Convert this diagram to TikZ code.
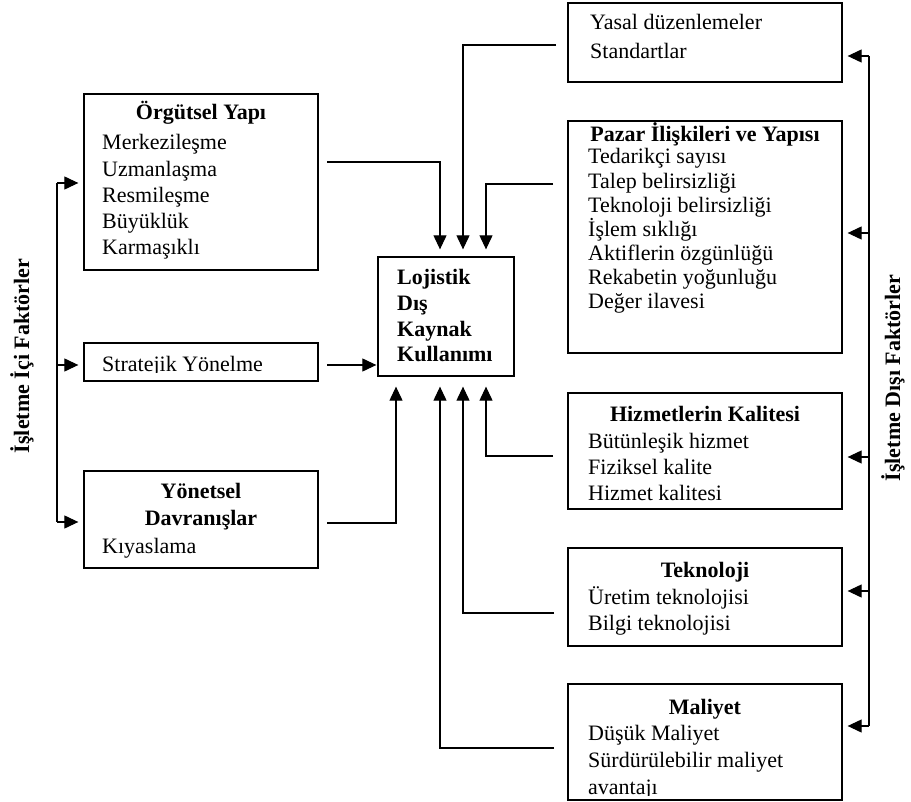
\documentclass[tikz,border=0pt]{standalone}
\usepackage{fontspec}
\setmainfont{Liberation Serif}
\usetikzlibrary{arrows.meta}
\begin{document}
\begin{tikzpicture}[x=1pt,y=-1pt,
  box/.style={draw, line width=1.3pt, inner sep=0pt},
  txt/.style={inner sep=0pt, anchor=base west, align=left},
  ttl/.style={inner sep=0pt, anchor=base, align=center},
  link/.style={line width=1.1pt, -{Triangle[length=14pt,width=13pt]}},
  bus/.style={line width=1.1pt}]
\useasboundingbox (0,0) rectangle (911,802);

% ---- boxes ----
\node[box, minimum width=234pt, minimum height=176pt] (org) at (201,182) {};
\node[box, minimum width=234pt, minimum height=38pt]  (str) at (201,362) {};
\node[box, minimum width=234pt, minimum height=97pt]  (yon) at (201,519.5) {};
\node[box, minimum width=136pt, minimum height=119pt] (lds) at (446,316.5) {};
\node[box, minimum width=274pt, minimum height=79pt]  (yas) at (705,42.5) {};
\node[box, minimum width=274pt, minimum height=232pt] (paz) at (705,237) {};
\node[box, minimum width=274pt, minimum height=116pt] (hiz) at (705,451) {};
\node[box, minimum width=274pt, minimum height=98pt]  (tek) at (705,597) {};
\node[box, minimum width=274pt, minimum height=116pt] (mal) at (705,742) {};

% ---- box texts (multi-line nodes are placed by the baseline of their last line) ----
\node[ttl, font=\fontsize{22}{26}\selectfont\bfseries] (org-t) at (201,120) {Örgütsel Yapı};
\node[txt, font=\fontsize{22}{26.25}\selectfont] (org-i) at (102,255)
  {Merkezileşme\\Uzmanlaşma\\Resmileşme\\Büyüklük\\Karmaşıklı};

\begin{scope}
  \clip (84,343) rectangle (318,373);
  \node[txt, font=\fontsize{22}{26}\selectfont] (str-i) at (102,372) {Stratejik Yönelme};
\end{scope}

\node[ttl, font=\fontsize{22}{27}\selectfont\bfseries] (yon-t) at (201,525) {Yönetsel\\Davranışlar};
\node[txt, font=\fontsize{22}{26}\selectfont] (yon-i) at (102,553) {Kıyaslama};

\node[txt, font=\fontsize{22}{25.7}\selectfont\bfseries] (lds-t) at (397,362)
  {Lojistik\\Dış\\Kaynak\\Kullanımı};

\node[txt, font=\fontsize{22}{29}\selectfont] (yas-i) at (590,59)
  {Yasal düzenlemeler\\Standartlar};

\node[ttl, font=\fontsize{22}{26}\selectfont\bfseries] (paz-t) at (705,142) {Pazar İlişkileri ve Yapısı};
\node[txt, font=\fontsize{22}{24.1}\selectfont] (paz-i) at (588,308.6)
  {Tedarikçi sayısı\\Talep belirsizliği\\Teknoloji belirsizliği\\İşlem sıklığı\\Aktiflerin özgünlüğü\\Rekabetin yoğunluğu\\Değer ilavesi};

\node[ttl, font=\fontsize{22}{26}\selectfont\bfseries] (hiz-t) at (705,422) {Hizmetlerin Kalitesi};
\node[txt, font=\fontsize{22}{26}\selectfont] (hiz-i) at (588,500)
  {Bütünleşik hizmet\\Fiziksel kalite\\Hizmet kalitesi};

\node[ttl, font=\fontsize{22}{26}\selectfont\bfseries] (tek-t) at (705,577) {Teknoloji};
\node[txt, font=\fontsize{22}{26.5}\selectfont] (tek-i) at (588,630.5)
  {Üretim teknolojisi\\Bilgi teknolojisi};

\node[ttl, font=\fontsize{22}{26}\selectfont\bfseries] (mal-t) at (705,714) {Maliyet};
\begin{scope}
  \clip (568,684) rectangle (842,795);
  \node[txt, font=\fontsize{22}{27}\selectfont] (mal-i) at (588,794)
    {Düşük Maliyet\\Sürdürülebilir maliyet\\avantajı};
\end{scope}

% ---- side labels ----
\node[rotate=90, inner sep=0pt, font=\fontsize{22}{26}\selectfont\bfseries] (ic) at (22,356) {İşletme İçi Faktörler};
\node[rotate=90, inner sep=0pt, font=\fontsize{22}{26}\selectfont\bfseries] (dis) at (893,378) {İşletme Dışı Faktörler};

% ---- internal factors bus ----
\coordinate (lb1) at (57,183);
\coordinate (lb2) at (57,365);
\coordinate (lb3) at (57,522);
\draw[bus] (lb1) -- (lb3);
\draw[link, shorten >=5pt] (lb1) -- (lb1 -| org.west);
\draw[link, shorten >=5pt] (lb2) -- (lb2 -| str.west);
\draw[link, shorten >=5pt] (lb3) -- (lb3 -| yon.west);

% ---- external factors bus ----
\coordinate (rb1) at (869,56);
\coordinate (rb2) at (869,233);
\coordinate (rb3) at (869,457);
\coordinate (rb4) at (869,591);
\coordinate (rb5) at (869,726);
\draw[bus] (rb1) -- (rb5);
\draw[link, shorten >=5pt] (rb1) -- (rb1 -| yas.east);
\draw[link, shorten >=5pt] (rb2) -- (rb2 -| paz.east);
\draw[link, shorten >=5pt] (rb3) -- (rb3 -| hiz.east);
\draw[link, shorten >=5pt] (rb4) -- (rb4 -| tek.east);
\draw[link, shorten >=5pt] (rb5) -- (rb5 -| mal.east);

% ---- entry points on the central box ----
\coordinate (t1) at ([xshift=-6pt]lds.north);
\coordinate (t2) at ([xshift=17pt]lds.north);
\coordinate (t3) at ([xshift=40pt]lds.north);
\coordinate (b0) at ([xshift=-50pt]lds.south);
\coordinate (b1) at ([xshift=-6pt]lds.south);
\coordinate (b2) at ([xshift=17pt]lds.south);
\coordinate (b3) at ([xshift=40pt]lds.south);

% ---- factor outputs ----
\coordinate (o-org) at (327,162);
\coordinate (o-str) at (327,365);
\coordinate (o-yon) at (327,523);
\coordinate (o-yas) at (556,45);
\coordinate (o-paz) at (553,184);
\coordinate (o-hiz) at (553,456);
\coordinate (o-tek) at (554,613);
\coordinate (o-mal) at (554,748);

\draw[link, shorten >=7pt] (o-org) -| (t1);
\draw[link, shorten >=7pt] (o-yas) -| (t2);
\draw[link, shorten >=7pt] (o-paz) -| (t3);
\draw[link, shorten >=1pt] (o-str) -- (o-str -| lds.west);
\draw[link, shorten >=10pt] (o-yon) -| (b0);
\draw[link, shorten >=10pt] (o-mal) -| (b1);
\draw[link, shorten >=10pt] (o-tek) -| (b2);
\draw[link, shorten >=10pt] (o-hiz) -| (b3);
\end{tikzpicture}
\end{document}
